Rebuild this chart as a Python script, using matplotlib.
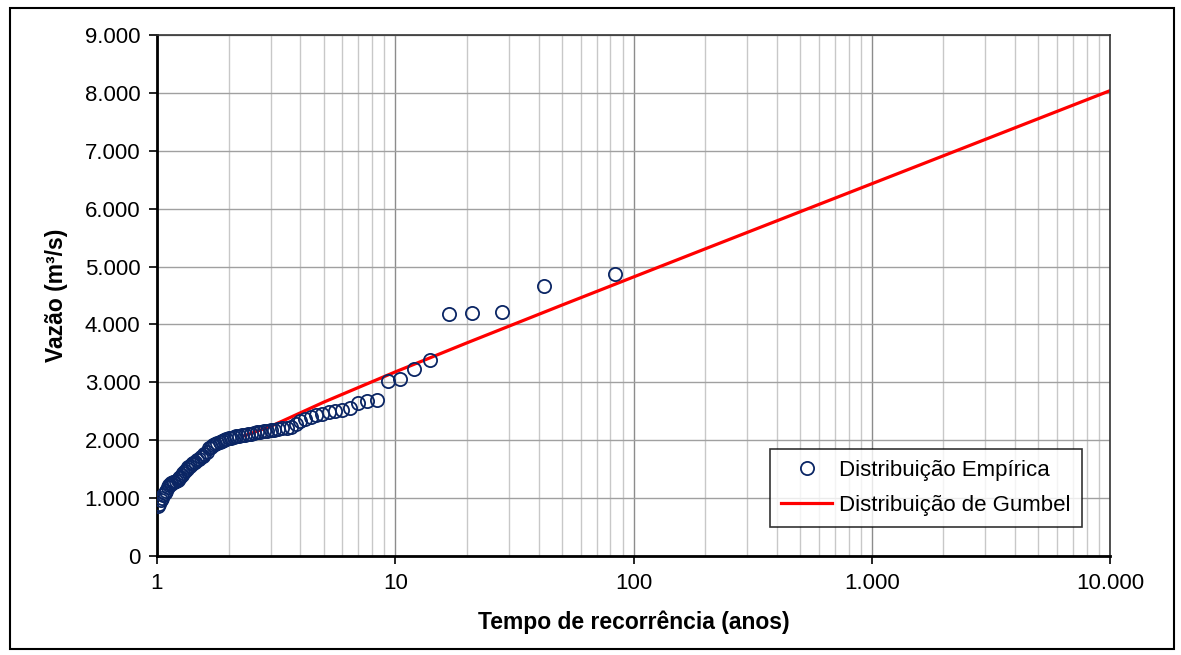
import numpy as np
import matplotlib.pyplot as plt
from matplotlib.patches import Rectangle
from matplotlib.ticker import FixedLocator, FuncFormatter, NullFormatter

plt.rcParams['font.family'] = ['Liberation Sans', 'DejaVu Sans']

# ── Data ──────────────────────────────────────────────────────────────────────
# empirical points: recurrence time (years) and flow (m3/s)
T_emp = [84.00, 42.00, 28.00, 21.00, 16.80, 14.00, 12.00, 10.50, 9.33, 8.40,
         7.64, 7.00, 6.46, 6.00, 5.60, 5.25, 4.94, 4.67, 4.42, 4.20,
         4.00, 3.82, 3.65, 3.50, 3.36, 3.23, 3.11, 3.00, 2.90, 2.80,
         2.71, 2.63, 2.55, 2.47, 2.40, 2.33, 2.27, 2.21, 2.15, 2.10,
         2.05, 2.00, 1.95, 1.91, 1.87, 1.83, 1.79, 1.75, 1.71, 1.68,
         1.65, 1.62, 1.58, 1.56, 1.53, 1.50, 1.47, 1.45, 1.42, 1.40,
         1.38, 1.35, 1.33, 1.31, 1.29, 1.27, 1.25, 1.24, 1.22, 1.20,
         1.18, 1.17, 1.15, 1.14, 1.12, 1.11, 1.09, 1.08, 1.06, 1.05,
         1.04, 1.02, 1.01]
Q_emp = [4880, 4670, 4210, 4190, 4185, 3390, 3230, 3050, 3030, 2700,
         2680, 2650, 2560, 2530, 2510, 2480, 2460, 2430, 2400, 2370,
         2330, 2280, 2225, 2215, 2205, 2195, 2185, 2175, 2165, 2155,
         2145, 2135, 2125, 2115, 2105, 2095, 2085, 2075, 2065, 2055,
         2045, 2035, 2020, 2005, 1990, 1975, 1960, 1940, 1910, 1880,
         1860, 1790, 1760, 1730, 1710, 1680, 1650, 1630, 1610, 1590,
         1560, 1530, 1500, 1470, 1430, 1400, 1370, 1340, 1320, 1300,
         1280, 1270, 1260, 1250, 1230, 1200, 1120, 1090, 1050, 1000,
         960, 900, 870]

# Gumbel fit
T_gum = [2.3, 3, 5, 10, 20, 50, 100, 200, 500, 1000, 2000, 5000, 10000]
Q_gum = [2070, 2239, 2656, 3180, 3682, 4333, 4820, 5306, 5946, 6430, 6914, 7554, 8038]

x_major = [1, 10, 100, 1000, 10000]
x_labels = ["1", "10", "100", "1.000", "10.000"]
y_ticks = list(range(0, 9001, 1000))

# ── Plot ──────────────────────────────────────────────────────────────────────
fig = plt.figure(figsize=(11.81, 6.55), dpi=100)
ax = fig.add_axes([157 / 1181, 1 - 556 / 655, (1110 - 157) / 1181, (556 - 35) / 655])

# outer chart border
fig.patches.append(Rectangle((10 / 1181, 1 - 649 / 655), (1174 - 10) / 1181, (649 - 8) / 655,
                             transform=fig.transFigure, fill=False, edgecolor="black",
                             linewidth=1.5, zorder=0))

ax.set_xscale("log")
ax.set_xlim(1, 10000)
ax.set_ylim(0, 9000)

ax.xaxis.set_major_locator(FixedLocator(x_major))
ax.xaxis.set_major_formatter(FuncFormatter(lambda v, p: x_labels[x_major.index(v)] if v in x_major else ""))
minor = [m * 10 ** e for e in range(4) for m in range(2, 10)]
ax.xaxis.set_minor_locator(FixedLocator(minor))
ax.xaxis.set_minor_formatter(NullFormatter())
ax.yaxis.set_major_locator(FixedLocator(y_ticks))
ax.yaxis.set_major_formatter(FuncFormatter(lambda v, p: f"{int(v):,}".replace(",", ".")))

ax.grid(True, which="major", axis="x", color="#8c8c8c", linewidth=1.0, zorder=0)
ax.grid(True, which="minor", axis="x", color="#c8c8c8", linewidth=1.0, zorder=0)
ax.grid(True, which="major", axis="y", color="#a0a0a0", linewidth=1.0, zorder=0)
ax.set_axisbelow(True)

ax.tick_params(axis="both", which="major", direction="out", length=6, width=1.2,
               labelsize=16, colors="black", pad=6)
ax.tick_params(axis="x", which="minor", length=0)

for side in ("left", "bottom"):
    ax.spines[side].set_linewidth(2.0)
    ax.spines[side].set_color("black")
for side in ("top", "right"):
    ax.spines[side].set_linewidth(1.2)
    ax.spines[side].set_color("#333333")

ax.plot(T_gum, Q_gum, color="#ff0000", linewidth=2.3, zorder=2, label="Distribuição de Gumbel")
ax.plot(T_emp, Q_emp, linestyle="none", marker="o", markersize=9.5, markerfacecolor="none",
        markeredgecolor="#0a2564", markeredgewidth=1.3, zorder=3, label="Distribuição Empírica")

ax.set_xlabel("Tempo de recorrência (anos)", fontsize=16.5, fontweight="bold", labelpad=12)
ax.set_ylabel("Vazão (m³/s)", fontsize=16.5, fontweight="bold", labelpad=12)

h, l = ax.get_legend_handles_labels()
leg = ax.legend([h[1], h[0]], [l[1], l[0]], loc="lower right", bbox_to_anchor=(0.982, 0.035),
                fontsize=16, frameon=True, fancybox=False, edgecolor="black",
                borderpad=0.5, handlelength=2.3, handletextpad=0.3, labelspacing=0.6)
leg.get_frame().set_linewidth(1.2)

fig.savefig("out.png", dpi=100, facecolor="white")
